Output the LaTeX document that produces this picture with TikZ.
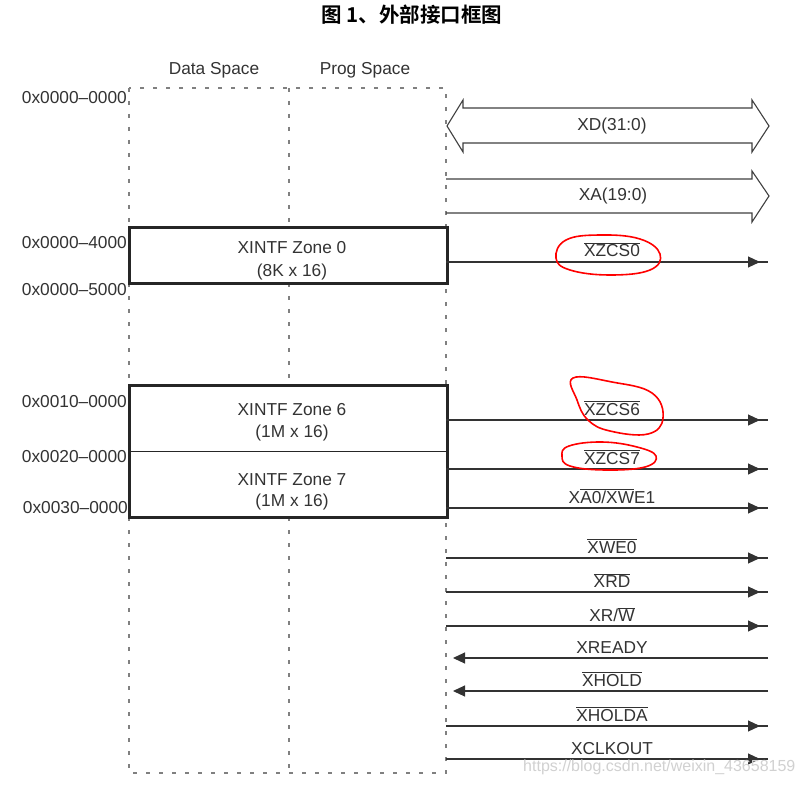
\documentclass[tikz,border=0pt]{standalone}
\usepackage{fontspec}
\setmainfont{Liberation Sans}
\newfontfamily\cjkb{Noto Sans CJK SC Bold}
\usetikzlibrary{arrows.meta,calc}
\newcommand{\ovl}[1]{$\overline{\mbox{#1}}$}
\begin{document}
\begin{tikzpicture}[x=1pt,y=-1pt,
  lbl/.style={font=\fontsize{17.3}{20}\selectfont, text=black!80, inner sep=0pt},
  addr/.style={lbl, anchor=east},
  siglbl/.style={lbl, anchor=base},
  sig/.style={line width=1.1pt, draw=black!80},
  tipR/.style={-{Triangle[length=12pt,width=11pt]}},
  dashbox/.style={draw=black!50, line width=1.5pt, dash pattern=on 4pt off 9pt},
  zonebox/.style={draw=black!85, fill=white, line width=1pt, minimum width=317pt, inner sep=0pt},
  thickbox/.style={draw=black!85, line width=2.6pt},
  bus/.style={draw=black!75, line width=1.1pt, line join=miter},
  redmark/.style={draw=red, line width=1.6pt}
]
\useasboundingbox (0,0) rectangle (805,786);
\fill[white] (0,0) rectangle (805,786);

% title
\node[font=\cjkb\fontsize{20.5}{22}\selectfont] (title) at (412,15) {图 1、外部接口框图};

% column headers
\node[lbl] (ds) at (214,70) {Data Space};
\node[lbl] (ps) at (365,70) {Prog Space};

% dashed frame
\coordinate (fTL) at (129,88);
\coordinate (fBR) at (446,773);
\coordinate (mT) at (289,88);
\coordinate (mB) at (289,773);
\draw[dashbox] (fTL) rectangle (fBR);
\draw[dashbox] (mT) -- (mB);

% address labels
\node[addr] (a0) at (127,98) {0x0000--0000};
\node[addr] (a1) at (127,243) {0x0000--4000};
\node[addr] (a2) at (127,290) {0x0000--5000};
\node[addr] (a3) at (127,402) {0x0010--0000};
\node[addr] (a4) at (127,457) {0x0020--0000};
\node[addr] (a5) at (128,508) {0x0030--0000};

% zones
\node[zonebox, minimum height=55pt] (z0) at (288.5,255.5) {};
\draw[thickbox] (z0.north west) rectangle (z0.south east);
\node[lbl] (z0a) at (292,248) {XINTF Zone 0};
\node[lbl] (z0b) at (292,272) {(8K x 16)};

\node[zonebox, minimum height=65pt] (z6) at (288.5,418.5) {};
\node[zonebox, minimum height=66pt] (z7) at (288.5,484) {};
\draw[thickbox] (z6.north west) rectangle (z7.south east);
\node[lbl] (z6a) at (292,410) {XINTF Zone 6};
\node[lbl] (z6b) at (292,433) {(1M x 16)};
\node[lbl] (z7a) at (292,480) {XINTF Zone 7};
\node[lbl] (z7b) at (292,502) {(1M x 16)};

% buses
\draw[bus] (447,126) -- (463,100) -- (463,108) -- (752,108) -- (752,100) -- (769,126)
  -- (752,152) -- (752,143) -- (463,143) -- (463,152) -- cycle;
\node[lbl] (xd) at (612,126) {XD(31:0)};
\draw[bus] (446,179) -- (752,179) -- (752,171) -- (769,196) -- (752,222) -- (752,213) -- (446,213);
\node[lbl] (xa) at (613,196) {XA(19:0)};

% outgoing signals
\foreach \y/\t [count=\i] in {262/{\ovl{XZCS0}}, 420/{\ovl{XZCS6}}, 469/{\ovl{XZCS7}},
   508/{X\ovl{A0/XW}E1}, 558/{\ovl{XWE0}}, 592/{\ovl{XRD}}, 626/{XR/\ovl{W}},
   726/{\ovl{XHOLDA}}, 759/{XCLKOUT}} {
  \coordinate (L\i) at (446,\y);
  \coordinate (R\i) at (768,\y);
  \node[siglbl] (t\i) at (612,\y-5) {\t};
  \draw[sig,tipR] (L\i) -- ($(R\i)+(-8,0)$);
  \draw[sig] ($(R\i)+(-10,0)$) -- (R\i);
}
% incoming signals
\foreach \y/\t [count=\i] in {658/{XREADY}, 691/{\ovl{XHOLD}}} {
  \coordinate (iL\i) at (453,\y);
  \coordinate (iR\i) at (768,\y);
  \node[siglbl] (it\i) at (612,\y-5) {\t};
  \draw[sig,tipR] (iR\i) -- (iL\i);
}

% red hand marks
\draw[redmark] plot[smooth cycle, tension=0.7] coordinates
  {(556,258) (566,240) (600,235) (640,239) (660,254) (650,270) (610,275) (570,270)};
\draw[redmark] plot[smooth cycle, tension=0.7] coordinates
  {(573,378) (612,382) (652,393) (663,418) (648,434) (610,431) (588,420) (577,400)};
\draw[redmark] plot[smooth cycle, tension=0.7] coordinates
  {(569,446) (602,442) (637,447) (656,456) (645,467) (605,470) (570,466) (562,456)};

% watermark
\node[font=\fontsize{16}{18}\selectfont, text=black!18, anchor=west, inner sep=0pt] (wm) at (523,767) {https://blog.csdn.net/weixin\_43658159};
\end{tikzpicture}
\end{document}
